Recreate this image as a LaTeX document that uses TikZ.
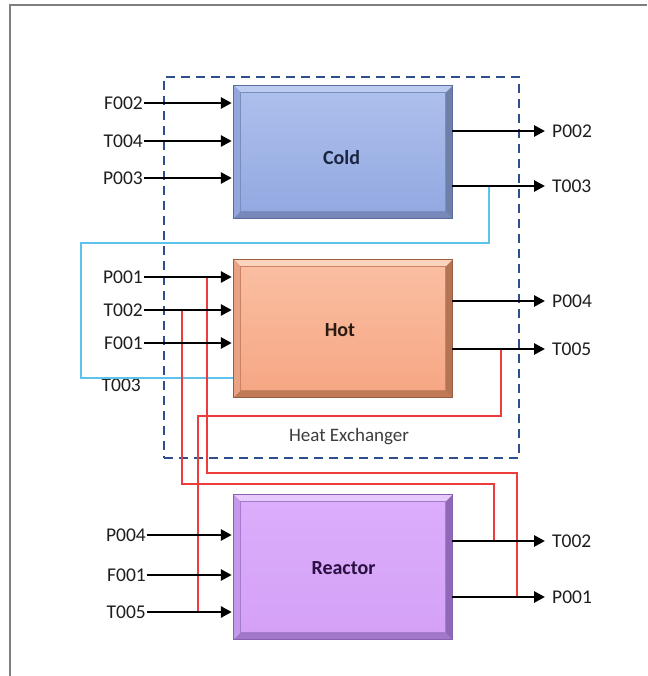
\documentclass[tikz,border=0pt]{standalone}
\usepackage{fontspec}
\setmainfont{Carlito}
\usetikzlibrary{arrows.meta,backgrounds,calc}
\definecolor{labeltext}{HTML}{1E1E1E}
\definecolor{hxtext}{HTML}{3C3C3C}
\definecolor{hxblue}{HTML}{2F4F8C}
\definecolor{redline}{HTML}{EE3B3B}
\definecolor{cyanline}{HTML}{5CC3EC}
\definecolor{framegray}{HTML}{7F7F7F}
% cold
\definecolor{coldout}{HTML}{5B6B9B}
\definecolor{coldtop}{HTML}{BCCBF0}
\definecolor{coldleft}{HTML}{93A7DC}
\definecolor{coldright}{HTML}{6E7FAA}
\definecolor{coldbottom}{HTML}{7888BA}
\definecolor{coldin1}{HTML}{ADBFEC}
\definecolor{coldin2}{HTML}{93A9E1}
\definecolor{coldline}{HTML}{7A8CC0}
\definecolor{coldtext}{HTML}{1C2540}
% hot
\definecolor{hotout}{HTML}{9A5C3E}
\definecolor{hottop}{HTML}{FCD3BD}
\definecolor{hotleft}{HTML}{E9A383}
\definecolor{hotright}{HTML}{B37354}
\definecolor{hotbottom}{HTML}{C07A58}
\definecolor{hotin1}{HTML}{FABEA2}
\definecolor{hotin2}{HTML}{F6A784}
\definecolor{hotline}{HTML}{C98262}
\definecolor{hottext}{HTML}{2A1A12}
% reactor
\definecolor{reacout}{HTML}{8A60B0}
\definecolor{reactop}{HTML}{E8C9FB}
\definecolor{reacleft}{HTML}{C598EC}
\definecolor{reacright}{HTML}{9068B8}
\definecolor{reacbottom}{HTML}{A078C8}
\definecolor{reacin1}{HTML}{DBADFA}
\definecolor{reacin2}{HTML}{D4A1F7}
\definecolor{reacline}{HTML}{A57BD0}
\definecolor{reactext}{HTML}{2A1040}

\newcommand\bevelbox[2]{%
  \begin{pgfonlayer}{background}
    \fill[#2bottom] (#1.south west) rectangle (#1.north east);
    \fill[#2right] (#1.north east) -- (#1.south east) -- ([xshift=-7pt,yshift=7pt]#1.south east) -- ([xshift=-7pt,yshift=-7pt]#1.north east) -- cycle;
    \fill[#2top] (#1.north west) -- (#1.north east) -- ([xshift=-7pt,yshift=-7pt]#1.north east) -- ([xshift=7pt,yshift=-7pt]#1.north west) -- cycle;
    \fill[#2left] (#1.north west) -- ([xshift=7pt,yshift=-7pt]#1.north west) -- ([xshift=7pt,yshift=7pt]#1.south west) -- (#1.south west) -- cycle;
    \shade[top color=#2in1, bottom color=#2in2, draw=#2line, line width=0.8pt] ([xshift=7pt,yshift=-7pt]#1.north west) rectangle ([xshift=-7pt,yshift=7pt]#1.south east);
    \draw[#2out, line width=1pt] (#1.south west) rectangle (#1.north east);
  \end{pgfonlayer}}

\begin{document}
\begin{tikzpicture}[x={(1pt,0pt)},y={(0pt,-1pt)},
  lbl/.style={font=\fontsize{19.5}{22}\selectfont, text=labeltext, inner sep=1pt},
  arrin/.style={draw=black, line width=2.7pt, -{Triangle[length=11pt,width=11pt]}, shorten >=2pt},
  arrout/.style={draw=black, line width=2.7pt, -{Triangle[length=11pt,width=11pt]}, shorten >=6pt},
  redl/.style={draw=redline, line width=1.1pt},
  cyanl/.style={draw=cyanline, line width=1.6pt},
  boxlbl/.style={font=\fontsize{20}{24}\selectfont\bfseries, inner sep=0pt},
  unit/.style={rectangle, minimum width=218pt, inner sep=0pt},
  hxbox/.style={rectangle, draw=hxblue, line width=2.4pt, dash pattern=on 9pt off 6pt, minimum width=355pt, minimum height=381pt}
]
\useasboundingbox (0,0) rectangle (647,676);

% outer frame
\draw[framegray, line width=1.2pt] (10,676) -- (10,5) -- (647,5);

% heat exchanger boundary
\node[hxbox] (hx) at (341.5,267.5) {};
\node[font=\fontsize{19}{22}\selectfont, text=hxtext] (hxl) at (349,437) {Heat Exchanger};

% units
\node[unit, minimum height=132pt] (cold) at (343,152) {};
\node[unit, minimum height=137pt] (hot) at (343,328.5) {};
\node[unit, minimum height=144pt] (reac) at (343,567) {};
\bevelbox{cold}{cold}
\bevelbox{hot}{hot}
\bevelbox{reac}{reac}
\node[boxlbl, text=coldtext] (coldl) at (341.5,158) {Cold};
\node[boxlbl, text=hottext] (hotl) at (340,330) {Hot};
\node[boxlbl, text=reactext] (reacl) at (343.5,568) {Reactor};

% labels
\node[lbl, anchor=east] (cF002) at (144,103) {F002};
\node[lbl, anchor=east] (cT004) at (144,141) {T004};
\node[lbl, anchor=east] (cP003) at (144,178) {P003};
\node[lbl, anchor=west] (cP002) at (551,131) {P002};
\node[lbl, anchor=west] (cT003) at (551,186) {T003};

\node[lbl, anchor=east] (hP001) at (144,277) {P001};
\node[lbl, anchor=east] (hT002) at (144,310) {T002};
\node[lbl, anchor=east] (hF001) at (144,343) {F001};
\node[lbl, anchor=east] (hT003) at (142,385) {T003};
\node[lbl, anchor=west] (hP004) at (551,301) {P004};
\node[lbl, anchor=west] (hT005) at (551,349) {T005};

\node[lbl, anchor=east] (rP004) at (147,535) {P004};
\node[lbl, anchor=east] (rF001) at (147,575) {F001};
\node[lbl, anchor=east] (rT005) at (147,612) {T005};
\node[lbl, anchor=west] (rT002) at (551,541) {T002};
\node[lbl, anchor=west] (rP001) at (551,597) {P001};

% tap coordinates
\coordinate (cyA) at (489,186);
\coordinate (cyB) at (233,378);
\coordinate (r1A) at (501,349);
\coordinate (r1B) at (198,612);
\coordinate (r2A) at (207,277);
\coordinate (r2B) at (517,597);
\coordinate (r3A) at (182,310);
\coordinate (r3B) at (494,541);

% recycle lines
\draw[cyanl] (cyA) -- (489,243) -- (81,243) -- (81,378) -- (cyB);
\draw[redl] (r1A) -- (501,416) -- (198,416) -- (r1B);
\draw[redl] (r2A) -- (207,473) -- (517,473) -- (r2B);
\draw[redl] (r3A) -- (182,484) -- (494,484) -- (r3B);

% arrows
\draw[arrin] (cF002.east) -- (cold.west |- cF002.east);
\draw[arrin] (cT004.east) -- (cold.west |- cT004.east);
\draw[arrin] (cP003.east) -- (cold.west |- cP003.east);
\draw[arrout] (cold.east |- cP002.west) -- (cP002.west);
\draw[arrout] (cold.east |- cT003.west) -- (cT003.west);

\draw[arrin] (hP001.east) -- (hot.west |- hP001.east);
\draw[arrin] (hT002.east) -- (hot.west |- hT002.east);
\draw[arrin] (hF001.east) -- (hot.west |- hF001.east);
\draw[arrout] (hot.east |- hP004.west) -- (hP004.west);
\draw[arrout] (hot.east |- hT005.west) -- (hT005.west);

\draw[arrin] (rP004.east) -- (reac.west |- rP004.east);
\draw[arrin] (rF001.east) -- (reac.west |- rF001.east);
\draw[arrin] (rT005.east) -- (reac.west |- rT005.east);
\draw[arrout] (reac.east |- rT002.west) -- (rT002.west);
\draw[arrout] (reac.east |- rP001.west) -- (rP001.west);
\end{tikzpicture}
\end{document}
